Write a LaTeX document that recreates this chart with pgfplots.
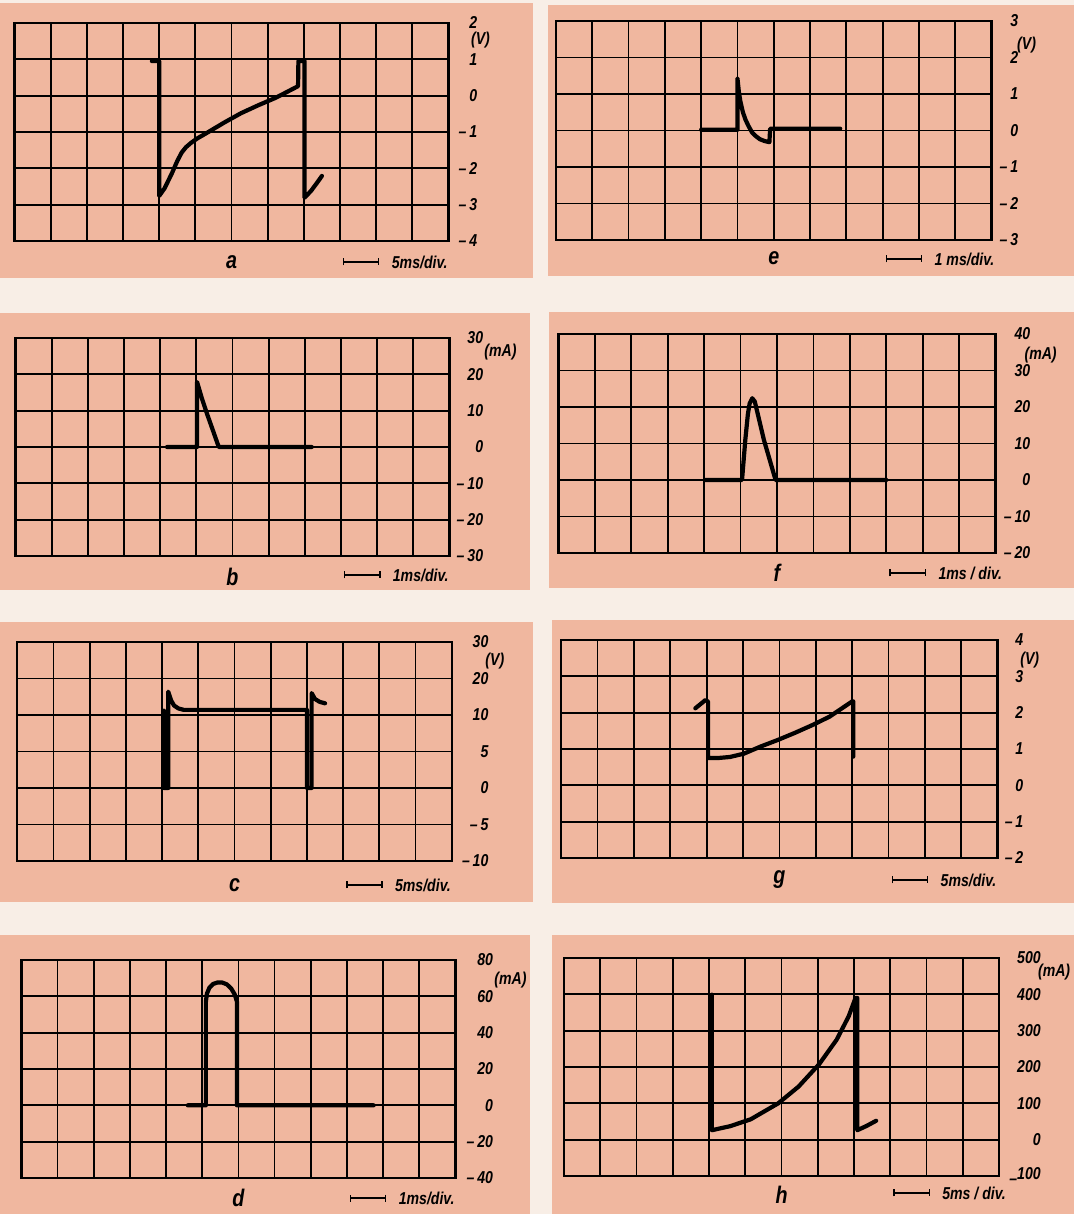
\documentclass[border=0pt]{standalone}
\usepackage{fontspec}
\setmainfont{Liberation Sans}[FakeStretch=0.82]
\usepackage{pgfplots}
\pgfplotsset{compat=1.18}
\usetikzlibrary{arrows.meta}
\definecolor{panel}{HTML}{F0B79F}
\definecolor{gapc}{HTML}{F8EEE6}
\newcommand\tickfont{\fontsize{8.6}{9}\selectfont\bfseries\itshape}
\newcommand\letfont{\fontsize{12}{13}\selectfont\bfseries\itshape}
\newcommand\scfont{\fontsize{8.6}{9}\selectfont\bfseries\itshape}
\newcommand\mn{--\,}
\pgfplotsset{
  osc/.style={scale only axis, anchor=north west, xmin=0, xmax=12,
    xtick={0,...,12}, xticklabels={}, grid=major,
    major grid style={black, line width=0.9pt},
    axis line style={black, line width=1.25pt},
    major tick length=0pt, yticklabel pos=right,
    yticklabel style={anchor=east, inner sep=0pt, font=\tickfont},
    clip=false},
  trace/.style={black, line width=2.1pt, line join=round, line cap=round, mark=none}
}
% #1 letter, #2 scale text, #3 letter shift, #4 bar shift
\newcommand\annot[4]{%
  \node[font=\letfont] at ([yshift=-#3]rel axis cs:0.5,0) {#1};
  \draw[black, line width=0.7pt, {Bar[width=3.5pt]}-{Bar[width=3.5pt]}] ([yshift=-#4]rel axis cs:0.757,0) -- ([yshift=-#4]rel axis cs:0.841,0);
  \node[font=\scfont, anchor=west, inner sep=0pt] at ([xshift=6pt,yshift=-#4]rel axis cs:0.841,0) {#2};
}
\begin{document}
\begin{tikzpicture}
\fill[gapc] (0pt,0pt) rectangle (537pt,607pt);
\useasboundingbox (0pt,0pt) rectangle (537pt,607pt);
\fill[panel] (0pt,605.5pt) rectangle (266.5pt,468pt);
\fill[panel] (274pt,604.5pt) rectangle (537pt,469pt);
\fill[panel] (0pt,450.5pt) rectangle (265pt,312pt);
\fill[panel] (274.5pt,451pt) rectangle (537pt,313pt);
\fill[panel] (0pt,296pt) rectangle (266.5pt,156pt);
\fill[panel] (276pt,297pt) rectangle (537pt,155.5pt);
\fill[panel] (0pt,139.5pt) rectangle (265pt,0pt);
\fill[panel] (276pt,139.5pt) rectangle (537pt,0pt);

% ---------- a ----------
\begin{axis}[osc, at={(7.25pt,595.5pt)}, width=217pt, height=109pt,
  ymin=-4, ymax=2, ytick={-4,...,2},
  yticklabels={\mn4,\mn3,\mn2,\mn1,0,1,2},
  yticklabel style={xshift=14.5pt}]
\addplot[trace] coordinates {(3.8,0.95)(4.0,0.95)(4.0,-2.76)(4.15,-2.55)(4.36,-2.12)(4.5,-1.8)(4.62,-1.57)(4.74,-1.42)(4.88,-1.3)(5.05,-1.18)(5.31,-1.03)(5.8,-0.74)(6.27,-0.48)(6.75,-0.26)(7.22,-0.06)(7.84,0.26)(7.85,0.95)(8.02,0.95)(8.02,-2.81)(8.2,-2.62)(8.35,-2.42)(8.5,-2.21)};
\node[font=\tickfont] at ([xshift=16pt,yshift=-8.5pt]rel axis cs:1,1) {(V)};
\annot{a}{5ms/div.}{10.5pt}{10.5pt}
\end{axis}

% ---------- e ----------
\begin{axis}[osc, at={(277.95pt,596.5pt)}, width=217.85pt, height=109.5pt,
  ymin=-3, ymax=3, ytick={-3,...,3},
  yticklabels={\mn3,\mn2,\mn1,0,1,2,3},
  yticklabel style={xshift=13.5pt}]
\addplot[trace] coordinates {(4.0,0.02)(5.0,0.02)(5.0,1.43)(5.04,1.05)(5.08,0.8)(5.15,0.5)(5.22,0.3)(5.3,0.13)(5.4,-0.05)(5.5,-0.15)(5.62,-0.24)(5.75,-0.29)(5.88,-0.32)(5.9,0.05)(7.83,0.05)};
\node[font=\tickfont] at ([xshift=17.5pt,yshift=-12pt]rel axis cs:1,1) {(V)};
\annot{e}{1 ms/div.}{9pt}{9.5pt}
\end{axis}

% ---------- b ----------
\begin{axis}[osc, at={(7.75pt,438pt)}, width=217pt, height=109pt,
  ymin=-30, ymax=30, ytick={-30,-20,...,30},
  yticklabels={\mn30,\mn20,\mn10,0,10,20,30},
  yticklabel style={xshift=17pt}]
\addplot[trace] coordinates {(4.19,0)(5.02,0)(5.02,17.9)(5.15,13.5)(5.3,9.0)(5.45,4.8)(5.62,0)(8.19,0)};
\node[font=\tickfont] at ([xshift=25.5pt,yshift=-7pt]rel axis cs:1,1) {(mA)};
\annot{b}{1ms/div.}{10.5pt}{9.5pt}
\end{axis}

% ---------- f ----------
\begin{axis}[osc, at={(279.2pt,440pt)}, width=218.6pt, height=109.5pt,
  ymin=-20, ymax=40, ytick={-20,-10,...,40},
  yticklabels={\mn20,\mn10,0,10,20,30,40},
  yticklabel style={xshift=17.5pt}]
\addplot[trace] coordinates {(4.03,0)(5.04,0)(5.13,11)(5.2,18)(5.25,21)(5.32,22.4)(5.39,21.5)(5.45,19)(5.64,11)(5.96,0)(9.0,0)};
\node[font=\tickfont] at ([xshift=22.5pt,yshift=-10.5pt]rel axis cs:1,1) {(mA)};
\annot{f}{1ms / div.}{10pt}{10pt}
\end{axis}

% ---------- c ----------
\begin{axis}[osc, at={(8.6pt,286pt)}, width=217.3pt, height=109.5pt,
  ymin=-10, ymax=20, ytick={-10,-5,...,20},
  yticklabels={\mn10,\mn5,0,5,10,20,30},
  yticklabel style={xshift=18.5pt}]
\addplot[trace] coordinates {(4.05,10.6)(4.05,0)(4.17,0)(4.17,13.2)(4.25,12.0)(4.33,11.3)(4.45,10.9)(4.6,10.7)(8.0,10.7)(8.0,0)(8.13,0)(8.13,13.0)(8.22,12.2)(8.35,11.8)(8.5,11.6)};
\node[font=\tickfont] at ([xshift=21.5pt,yshift=-9.5pt]rel axis cs:1,1) {(V)};
\annot{c}{5ms/div.}{12pt}{12pt}
\end{axis}

% ---------- g ----------
\begin{axis}[osc, at={(280.55pt,287pt)}, width=218.3pt, height=109pt,
  ymin=-2, ymax=4, ytick={-2,...,4},
  yticklabels={\mn2,\mn1,0,1,2,3,4},
  yticklabel style={xshift=13pt}]
\addplot[trace] coordinates {(3.69,2.12)(3.97,2.35)(4.04,2.3)(4.04,0.75)(4.3,0.75)(4.64,0.78)(5.02,0.87)(5.49,1.07)(5.96,1.25)(6.44,1.45)(6.91,1.66)(7.38,1.89)(8.0,2.31)(8.03,2.31)(8.03,0.79)};
\node[font=\tickfont] at ([xshift=16pt,yshift=-10pt]rel axis cs:1,1) {(V)};
\annot{g}{5ms/div.}{11pt}{11pt}
\end{axis}

% ---------- d ----------
\begin{axis}[osc, at={(10.7pt,127pt)}, width=217pt, height=109pt,
  ymin=-40, ymax=80, ytick={-40,-20,...,80},
  yticklabels={\mn40,\mn20,0,20,40,60,80},
  yticklabel style={xshift=19pt}]
\addplot[trace] coordinates {(4.6,0)(5.1,0)(5.1,57)(5.13,61.5)(5.2,64.8)(5.3,66.8)(5.42,67.6)(5.55,67.6)(5.68,66.6)(5.8,64.3)(5.9,61)(5.96,57)(5.96,0)(9.74,0)};
\node[font=\tickfont] at ([xshift=27.5pt,yshift=-10pt]rel axis cs:1,1) {(mA)};
\annot{d}{1ms/div.}{10pt}{10pt}
\end{axis}

% ---------- h ----------
\begin{axis}[osc, at={(281.95pt,128pt)}, width=217.6pt, height=109pt,
  ymin=-100, ymax=500, ytick={-100,0,...,500},
  yticklabels={\raisebox{-0.55ex}{--}100,0,100,200,300,400,500},
  yticklabel style={xshift=21pt}]
\addplot[trace] coordinates {(4.08,399)(4.08,26)(4.58,37)(5.15,56)(5.91,100)(6.47,146)(7.04,208)(7.52,275)(7.85,339)(8.04,390)(8.09,390)(8.09,26)(8.35,38)(8.61,52)};
\node[font=\tickfont] at ([xshift=27.5pt,yshift=-7pt]rel axis cs:1,1) {(mA)};
\annot{h}{5ms / div.}{9.5pt}{8.5pt}
\end{axis}
\end{tikzpicture}
\end{document}
